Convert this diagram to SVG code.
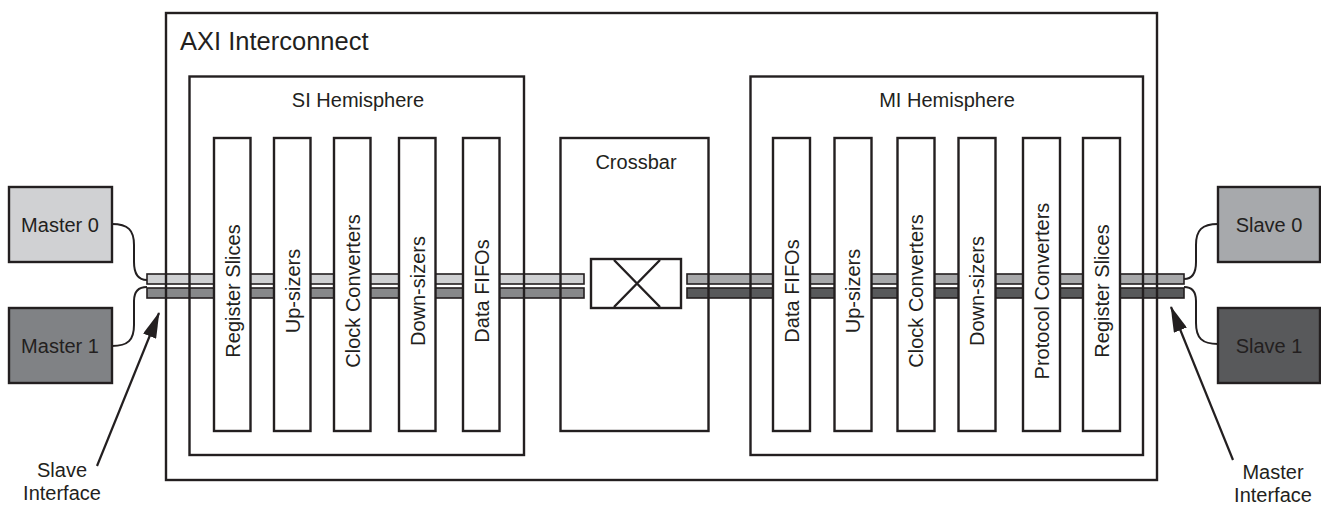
<svg xmlns="http://www.w3.org/2000/svg" width="1321" height="508" viewBox="0 0 1321 508">
<defs>
<style>
text{font-family:"Liberation Sans",Arial,Helvetica,sans-serif;fill:#231f20;font-size:20px}
.box{fill:none;stroke:#231f20;stroke-width:2.4}
.strip{fill:#fff;stroke:#231f20;stroke-width:2.4}
.bar{stroke:#231f20;stroke-width:1.6}
.wire{fill:none;stroke:#231f20;stroke-width:2}
.arrow{fill:none;stroke:#231f20;stroke-width:2.2}
.ext{stroke:#231f20;stroke-width:2.4}
.mid{text-anchor:middle}
</style>
<marker id="ah" viewBox="0 0 26 14" refX="25" refY="7" markerWidth="26" markerHeight="14" markerUnits="userSpaceOnUse" orient="auto">
<path d="M0,0 L26,7 L0,14 Z" fill="#231f20"/>
</marker>
</defs>
<rect width="1321" height="508" fill="#fff"/>

<g id="buses">
<rect class="bar" x="147" y="274" width="437" height="10" fill="#cfd0d2"/>
<rect class="bar" x="147" y="288" width="437" height="10" fill="#87888a"/>
<rect class="bar" x="687" y="274" width="497" height="10" fill="#a7a8aa"/>
<rect class="bar" x="687" y="288" width="497" height="10" fill="#58595b"/>
</g>

<g id="axi-interconnect">
<rect class="box" x="166" y="13" width="991" height="467"/>
<text x="180" y="50" style="font-size:25.5px">AXI Interconnect</text>
</g>

<g id="si-hemisphere">
<rect class="box" x="189.5" y="76.5" width="334.5" height="378.5"/>
<text class="mid" x="358" y="107">SI Hemisphere</text>
</g>

<g id="mi-hemisphere">
<rect class="box" x="750.5" y="76.5" width="392.5" height="378.5"/>
<text class="mid" x="947" y="107">MI Hemisphere</text>
</g>

<g id="si-register-slices">
<rect class="strip" x="214" y="138" width="36.5" height="293"/>
<text class="mid" transform="translate(232.5,291) rotate(-90)" y="7">Register Slices</text>
</g>
<g id="si-up-sizers">
<rect class="strip" x="274" y="138" width="36.5" height="293"/>
<text class="mid" transform="translate(292.5,291) rotate(-90)" y="7">Up-sizers</text>
</g>
<g id="si-clock-converters">
<rect class="strip" x="334" y="138" width="36.5" height="293"/>
<text class="mid" transform="translate(352.5,291) rotate(-90)" y="7">Clock Converters</text>
</g>
<g id="si-down-sizers">
<rect class="strip" x="399" y="138" width="36.5" height="293"/>
<text class="mid" transform="translate(417.5,291) rotate(-90)" y="7">Down-sizers</text>
</g>
<g id="si-data-fifos">
<rect class="strip" x="463" y="138" width="36.5" height="293"/>
<text class="mid" transform="translate(481.5,291) rotate(-90)" y="7">Data FIFOs</text>
</g>

<g id="crossbar">
<rect class="box" x="560.5" y="138" width="148" height="293"/>
<text class="mid" x="636" y="169">Crossbar</text>
<rect class="strip" x="591" y="259" width="90" height="49"/>
<path d="M614,260 L660,307 M660,260 L614,307" fill="none" stroke="#231f20" stroke-width="2.4"/>
</g>

<g id="mi-data-fifos">
<rect class="strip" x="773" y="138" width="37" height="293"/>
<text class="mid" transform="translate(791.5,291) rotate(-90)" y="7">Data FIFOs</text>
</g>
<g id="mi-up-sizers">
<rect class="strip" x="834.5" y="138" width="37" height="293"/>
<text class="mid" transform="translate(853,291) rotate(-90)" y="7">Up-sizers</text>
</g>
<g id="mi-clock-converters">
<rect class="strip" x="897.5" y="138" width="37" height="293"/>
<text class="mid" transform="translate(916,291) rotate(-90)" y="7">Clock Converters</text>
</g>
<g id="mi-down-sizers">
<rect class="strip" x="958.5" y="138" width="37" height="293"/>
<text class="mid" transform="translate(977,291) rotate(-90)" y="7">Down-sizers</text>
</g>
<g id="mi-protocol-converters">
<rect class="strip" x="1023" y="138" width="37" height="293"/>
<text class="mid" transform="translate(1041.5,291) rotate(-90)" y="7">Protocol Converters</text>
</g>
<g id="mi-register-slices">
<rect class="strip" x="1083" y="138" width="37" height="293"/>
<text class="mid" transform="translate(1101.5,291) rotate(-90)" y="7">Register Slices</text>
</g>

<g id="master0">
<rect class="ext" x="9" y="187" width="103" height="75" fill="#d0d1d3"/>
<text class="mid" x="60" y="231.5">Master 0</text>
</g>
<g id="master1">
<rect class="ext" x="9" y="308" width="103" height="75" fill="#808285"/>
<text class="mid" x="60" y="352.5">Master 1</text>
</g>
<g id="slave0">
<rect class="ext" x="1218" y="187" width="102" height="75" fill="#a7a9ac"/>
<text class="mid" x="1269" y="231.5">Slave 0</text>
</g>
<g id="slave1">
<rect class="ext" x="1218" y="308" width="102" height="75" fill="#58595b"/>
<text class="mid" x="1269" y="352.5">Slave 1</text>
</g>

<g id="slave-interface-label">
<text class="mid" x="62" y="477">Slave</text>
<text class="mid" x="62" y="500">Interface</text>
</g>
<g id="master-interface-label">
<text class="mid" x="1273" y="479">Master</text>
<text class="mid" x="1273" y="502">Interface</text>
</g>

<g id="connectors">
<path class="wire" d="M112,224 C128,224 134,230 134,245 L134,262 C134,274 138,280 147,280"/>
<path class="wire" d="M112,346 C128,346 134,340 134,325 L134,301 C134,292 138,287 147,287"/>
<path class="wire" d="M1218,224 C1202,224 1196,230 1196,245 L1196,262 C1196,274 1192,279 1184,279"/>
<path class="wire" d="M1218,344 C1202,344 1196,338 1196,323 L1196,301 C1196,292 1192,287 1184,287"/>
<line class="arrow" x1="97" y1="466" x2="159" y2="313" marker-end="url(#ah)"/>
<line class="arrow" x1="1233" y1="460" x2="1171" y2="307" marker-end="url(#ah)"/>
</g>
</svg>
